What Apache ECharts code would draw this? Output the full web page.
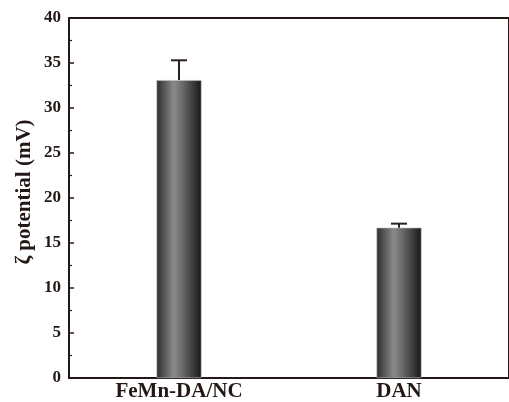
<!DOCTYPE html>
<html>
<head>
<meta charset="utf-8">
<script src="https://cdn.jsdelivr.net/npm/echarts@6/dist/echarts.min.js"></script>
<style>
  html, body { margin: 0; padding: 0; background: #ffffff; }
  #chart { width: 509px; height: 402px; }
</style>
</head>
<body>
<div id="chart"></div>
<script>
// Zeta potential of the two samples (mV) with their standard deviations
const categories = ['FeMn-DA/NC', 'DAN'];
const zetaValues = [33.1, 16.7];
const zetaErrors = [2.2, 0.45];

const ink = '#231815';
const serif = '"Liberation Serif", "Times New Roman", serif';

const chart = echarts.init(document.getElementById('chart'), null, { renderer: 'canvas' });

const barGradient = new echarts.graphic.LinearGradient(0, 0, 1, 0, [
  { offset: 0, color: '#2c2c2c' },
  { offset: 0.38, color: '#8a8a8a' },
  { offset: 0.55, color: '#6e6e6e' },
  { offset: 1, color: '#181818' }
]);

chart.setOption({
  animation: false,
  backgroundColor: '#ffffff',
  grid: {
    left: 69, top: 18, width: 448, height: 361,
    show: true, borderColor: ink, borderWidth: 2, backgroundColor: 'transparent'
  },
  xAxis: [
    {
      type: 'category',
      data: categories,
      axisLine: { lineStyle: { color: ink, width: 2 } },
      axisTick: { inside: true, alignWithLabel: true, length: 5, lineStyle: { color: ink, width: 1.5 } },
      axisLabel: { color: ink, fontFamily: serif, fontWeight: 'bold', fontSize: 21, margin: 3 }
    },
    {
      // short marks on the band boundaries between the categories
      type: 'category',
      data: categories,
      position: 'bottom',
      axisLine: { show: false },
      axisTick: { inside: true, length: 2.5, lineStyle: { color: ink, width: 1.5 } },
      axisLabel: { show: false }
    }
  ],
  yAxis: {
    type: 'value',
    min: 0, max: 40, interval: 5,
    axisLine: { show: true, lineStyle: { color: ink, width: 2 } },
    axisTick: { show: true, inside: true, length: 5, lineStyle: { color: ink, width: 1.5 } },
    minorTick: { show: true, splitNumber: 2, length: 3, lineStyle: { color: ink, width: 1.2 } },
    splitLine: { show: false },
    axisLabel: { color: ink, fontFamily: serif, fontWeight: 'bold', fontSize: 17, margin: 8 }
  },
  graphic: [
    {
      type: 'text',
      x: 25, y: 192,
      rotation: Math.PI / 2,
      style: {
        text: 'ζ potential (mV)',
        fill: ink,
        font: 'bold 21px ' + serif,
        textAlign: 'center',
        textVerticalAlign: 'middle'
      }
    }
  ],
  series: [
    {
      type: 'bar',
      data: zetaValues,
      barWidth: 45,
      itemStyle: { color: barGradient, borderColor: '#bdbdbd', borderWidth: 0.6 },
      z: 2
    },
    {
      type: 'custom',
      data: zetaValues.map((v, i) => [i, v, zetaErrors[i]]),
      renderItem: function (params, api) {
        const i = api.value(0);
        const v = api.value(1);
        const e = api.value(2);
        const base = api.coord([i, v]);
        const top = api.coord([i, v + e]);
        const half = 8;
        const style = { stroke: '#2b201c', lineWidth: 2 };
        return {
          type: 'group',
          children: [
            { type: 'line', shape: { x1: base[0], y1: base[1], x2: top[0], y2: top[1] }, style: style },
            { type: 'line', shape: { x1: top[0] - half, y1: top[1], x2: top[0] + half, y2: top[1] }, style: style }
          ]
        };
      },
      z: 3
    }
  ]
});
</script>
</body>
</html>
